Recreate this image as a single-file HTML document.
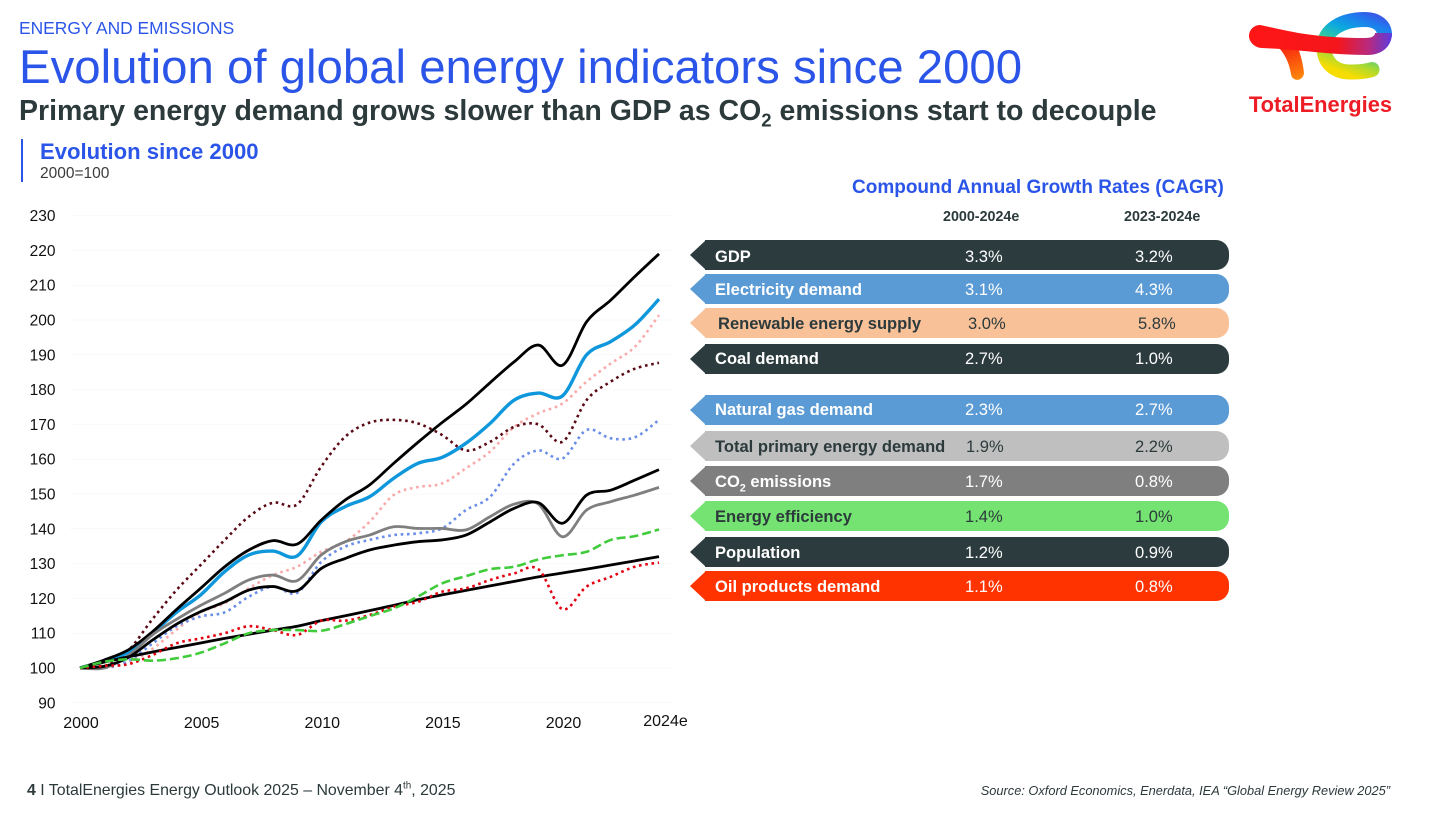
<!DOCTYPE html>
<html lang="en">
<head>
<meta charset="utf-8">
<title>Evolution of global energy indicators since 2000</title>
<style>
html,body{margin:0;padding:0;background:#fff}
body{width:1456px;height:816px;position:relative;overflow:hidden;font-family:"Liberation Sans",sans-serif}
.t{position:absolute;white-space:nowrap;line-height:1}
.bar{position:absolute;left:705px;width:524px;height:30px;border-radius:0 13px 13px 0;background:var(--c)}
.bar::before{content:"";position:absolute;left:-15px;top:0;width:0;height:0;border-style:solid;border-width:15px 16px 15px 0;border-color:transparent var(--c) transparent transparent}
.bar span{position:absolute;top:calc(50% + 1px);transform:translateY(-50%);white-space:nowrap;font-size:16.55px;color:var(--f)}
.bar .lab{left:10px;font-weight:bold}
.bar .v1{left:260px}
.bar .v2{left:430px}
sub{font-size:.65em;line-height:0}
sup{font-size:.62em;line-height:0}
</style>
</head>
<body>
<div class="t" style="left:19px;top:20px;font-size:17.4px;color:#2b55e8">ENERGY AND EMISSIONS</div>
<div class="t" style="left:19px;top:44px;font-size:47.36px;color:#2b55e8">Evolution of global energy indicators since 2000</div>
<div class="t" style="left:19px;top:97px;font-size:28.5px;font-weight:bold;color:#2c3a3c">Primary energy demand grows slower than GDP as CO<sub>2</sub> emissions start to decouple</div>
<div style="position:absolute;left:21px;top:139px;width:2px;height:43px;background:#2b55e8"></div>
<div class="t" style="left:40px;top:141px;font-size:22.1px;font-weight:bold;color:#2b55e8">Evolution since 2000</div>
<div class="t" style="left:40px;top:165.5px;font-size:15.5px;color:#3a3a3a">2000=100</div>

<svg id="chart" width="700" height="540" viewBox="0 0 700 540" style="position:absolute;left:0;top:200px"></svg>

<div class="t" style="left:852px;top:178px;font-size:19px;font-weight:bold;color:#2b55e8">Compound Annual Growth Rates (CAGR)</div>
<div class="t" style="left:943px;top:210px;font-size:14.3px;font-weight:bold;color:#2c3a3c">2000-2024e</div>
<div class="t" style="left:1124px;top:210px;font-size:14.3px;font-weight:bold;color:#2c3a3c">2023-2024e</div>

<div class="bar" style="top:239.5px;--c:#2c3b3e;--f:#fff"><span class="lab" style="top:calc(50% + 2px)">GDP</span><span class="v1" style="top:calc(50% + 2px)">3.3%</span><span class="v2" style="top:calc(50% + 2px)">3.2%</span></div>
<div class="bar" style="top:274px;--c:#5b9bd5;--f:#fff"><span class="lab">Electricity demand</span><span class="v1">3.1%</span><span class="v2">4.3%</span></div>
<div class="bar" style="top:308px;--c:#f8c198;--f:#2c3a3c"><span class="lab" style="left:13px">Renewable energy supply</span><span class="v1" style="left:263px">3.0%</span><span class="v2" style="left:433px">5.8%</span></div>
<div class="bar" style="top:344px;--c:#2c3b3e;--f:#fff"><span class="lab" style="top:50%">Coal demand</span><span class="v1" style="top:50%">2.7%</span><span class="v2" style="top:50%">1.0%</span></div>
<div class="bar" style="top:395px;--c:#5b9bd5;--f:#fff"><span class="lab" style="top:50%">Natural gas demand</span><span class="v1" style="top:50%">2.3%</span><span class="v2" style="top:50%">2.7%</span></div>
<div class="bar" style="top:431px;--c:#bfbfbf;--f:#2c3a3c"><span class="lab">Total primary energy demand</span><span class="v1" style="left:261px">1.9%</span><span class="v2">2.2%</span></div>
<div class="bar" style="top:466px;--c:#7f7f7f;--f:#fff"><span class="lab">CO<sub>2</sub> emissions</span><span class="v1">1.7%</span><span class="v2">0.8%</span></div>
<div class="bar" style="top:501px;--c:#74e371;--f:#2c3a3c"><span class="lab">Energy efficiency</span><span class="v1">1.4%</span><span class="v2">1.0%</span></div>
<div class="bar" style="top:537px;--c:#2c3b3e;--f:#fff"><span class="lab">Population</span><span class="v1">1.2%</span><span class="v2">0.9%</span></div>
<div class="bar" style="top:571px;--c:#ff3300;--f:#fff"><span class="lab">Oil products demand</span><span class="v1">1.1%</span><span class="v2">0.8%</span></div>

<svg width="160" height="120" viewBox="1240 0 160 120" style="position:absolute;left:1240px;top:0">
  <defs>
    <linearGradient id="ringGrad" gradientUnits="userSpaceOnUse" x1="1388" y1="12" x2="1362" y2="80">
      <stop offset="0" stop-color="#4a3fe0"/>
      <stop offset=".22" stop-color="#1f7bee"/>
      <stop offset=".42" stop-color="#0ca8e0"/>
      <stop offset=".6" stop-color="#2cc7a6"/>
      <stop offset=".8" stop-color="#a5d935"/>
      <stop offset="1" stop-color="#f6dc00"/>
    </linearGradient>
    <linearGradient id="barGrad" gradientUnits="userSpaceOnUse" x1="1250" y1="40" x2="1392" y2="40">
      <stop offset="0" stop-color="#ff1616"/>
      <stop offset=".62" stop-color="#f4161c"/>
      <stop offset=".84" stop-color="#b62a80"/>
      <stop offset="1" stop-color="#5a3be0"/>
    </linearGradient>
    <linearGradient id="stemGrad" gradientUnits="userSpaceOnUse" x1="1283" y1="45" x2="1298" y2="80">
      <stop offset="0" stop-color="#f7200f"/>
      <stop offset="1" stop-color="#ff8a0a"/>
    </linearGradient>
  </defs>
  <path d="M1384.5 35C1384.5 25 1376 19.5 1365 19.5C1342 19.5 1324 30 1324 47C1324 64 1336 72 1350 72C1358 72 1366 71.5 1372 69.5" fill="none" stroke="url(#ringGrad)" stroke-width="15" stroke-linecap="round"/>
  <path d="M1276 45C1284 52 1289 62 1291 74C1292 82 1303 82 1304 73C1303 64 1301 56 1298 48Z" fill="url(#stemGrad)"/>
  <path d="M1260 25C1285 30 1310 38 1365 38C1372 38 1375 36 1375 33L1392 33C1392 48 1380 55 1368 55C1330 55 1305 50 1262 48C1255 48 1249 42 1249 36C1249 30 1254 25 1260 25Z" fill="url(#barGrad)"/>
  <text x="1320.5" y="112" text-anchor="middle" font-family="Liberation Sans, sans-serif" font-weight="bold" font-size="21.9" fill="#ee1c25">TotalEnergies</text>
</svg>

<div class="t" style="left:27px;top:782.5px;font-size:15.9px;color:#2c3a3c"><b>4</b> I TotalEnergies Energy Outlook 2025 – November 4<sup>th</sup>, 2025</div>
<div class="t" style="right:66px;top:784.5px;font-size:12.8px;font-style:italic;color:#2c3a3c">Source: Oxford Economics, Enerdata, IEA “Global Energy Review 2025”</div>

<script>
const years = [2000,2001,2002,2003,2004,2005,2006,2007,2008,2009,2010,2011,2012,2013,2014,2015,2016,2017,2018,2019,2020,2021,2022,2023,2024];
const yTicks = [90,100,110,120,130,140,150,160,170,180,190,200,210,220,230];
const xTickYears = [2000,2005,2010,2015,2020,2024];
const xTickLabels = ["2000","2005","2010","2015","2020","2024e"];

const gdp = [100,102.3,105.2,110.4,116.8,122.9,129.1,133.9,136.6,135.6,142.5,148.3,152.6,158.8,164.8,170.5,175.8,182,188,192.8,187,199.5,205.7,212.5,219];
const electricity = [100,102,104.5,110,116,121,127.7,132.5,133.6,132.2,142,146.4,149.2,154.5,158.8,160.5,164.6,170.3,177,179,178.2,190,193.8,198.6,206];
const renewables = [100,100,101.5,105.5,111,116,118.6,122.9,126.7,129.1,133.4,136.3,142,149.7,152,153,157.4,162.2,169.3,173.2,176,182.3,187.5,192.3,201.4];
const coal = [100,100.5,105,114,122.4,129.6,136.8,143.5,147.5,147,157.9,166.5,170.5,171.3,170.3,167,162.5,165,169.3,170,165,177,182.3,186,187.7];
const naturalGas = [100,100,102,107,112,114.8,116,120.5,123.4,121.6,130.5,134.9,136.8,138.2,138.7,140.1,145.4,149.2,158.8,162.5,160.2,168.4,166,166.3,171.3];
const primaryEnergy = [100,100,103.5,109.5,114,118,121.5,125.3,126.7,125.1,132.5,136.3,138.2,140.6,140.1,140.1,139.7,143.5,147.1,147.1,137.7,145.4,147.8,149.7,151.9];
const co2 = [100,100.5,103,108,112.6,116.2,119,122.4,123.4,122.2,128.6,131.5,133.9,135.3,136.3,136.8,138.2,142,145.9,147.5,141.6,149.7,151.1,154,157];
const oil = [100,100.6,101.1,103.7,107.1,108.5,110,112,110.9,109.5,113.6,113.6,115.2,117.6,119,121.9,122.9,125.3,127.2,128.4,116.9,123.4,126.2,129.1,130.3];
const population = [100,101.7,103.2,104.6,105.9,107.2,108.5,109.7,110.9,112,113.6,115,116.5,118,119.6,121,122.3,123.6,124.9,126.2,127.3,128.4,129.6,130.8,132];
const efficiency = [100,101.8,102.5,102.1,102.8,104.4,107.1,110,110.9,110.9,110.7,112.6,114.9,117.1,120.5,124.3,126.4,128.4,129.1,131.2,132.4,133.4,136.8,137.9,139.8];

const seriesList = [
  { name: "renewable-energy-supply-line", values: renewables, color: "#f9a9a9", width: 2.6, dash: "2.6 3.7" },
  { name: "natural-gas-demand-line", values: naturalGas, color: "#6a8de8", width: 2.6, dash: "2.6 3.7" },
  { name: "coal-demand-line", values: coal, color: "#5a0a14", width: 2.6, dash: "2.6 3.7" },
  { name: "electricity-demand-line", values: electricity, color: "#0f97dc", width: 3.4, dash: "" },
  { name: "gdp-line", values: gdp, color: "#000000", width: 2.8, dash: "" },
  { name: "total-primary-energy-line", values: primaryEnergy, color: "#7f7f7f", width: 2.8, dash: "" },
  { name: "co2-emissions-line", values: co2, color: "#000000", width: 2.8, dash: "" },
  { name: "population-line", values: population, color: "#000000", width: 2.8, dash: "" },
  { name: "oil-products-demand-line", values: oil, color: "#e3000f", width: 2.6, dash: "2.6 3.7" },
  { name: "energy-efficiency-line", values: efficiency, color: "#3fcb3a", width: 2.6, dash: "9 4" }
];

const SVG_NS = "http://www.w3.org/2000/svg";
const chart = document.getElementById("chart");
const OFFSET_Y = 200;
function xScale(year) { return 80 + (year - 2000) * (659 - 80) / 24; }
function yScale(value) { return 668 - OFFSET_Y - (value - 100) * 3.48; }

function smoothPath(pts) {
  let d = "M" + pts[0][0].toFixed(2) + " " + pts[0][1].toFixed(2);
  for (let i = 0; i < pts.length - 1; i++) {
    const p0 = pts[Math.max(i - 1, 0)];
    const p1 = pts[i];
    const p2 = pts[i + 1];
    const p3 = pts[Math.min(i + 2, pts.length - 1)];
    const c1x = p1[0] + (p2[0] - p0[0]) / 6;
    const c1y = p1[1] + (p2[1] - p0[1]) / 6;
    const c2x = p2[0] - (p3[0] - p1[0]) / 6;
    const c2y = p2[1] - (p3[1] - p1[1]) / 6;
    d += "C" + c1x.toFixed(2) + " " + c1y.toFixed(2) + " " + c2x.toFixed(2) + " " + c2y.toFixed(2) + " " + p2[0].toFixed(2) + " " + p2[1].toFixed(2);
  }
  return d;
}

yTicks.forEach(function (tick) {
  const grid = document.createElementNS(SVG_NS, "line");
  
  
  grid.setAttribute("x1", 70);
  grid.setAttribute("x2", 672);
  grid.setAttribute("y1", yScale(tick));
  grid.setAttribute("y2", yScale(tick));
  grid.setAttribute("stroke", "#f9f9f9");
  grid.setAttribute("stroke-width", 1);
  chart.appendChild(grid);

  const label = document.createElementNS(SVG_NS, "text");
  
  
  label.setAttribute("x", 55.5);
  label.setAttribute("y", yScale(tick) + 5.5);
  label.setAttribute("text-anchor", "end");
  label.setAttribute("font-size", "15.5");
  label.setAttribute("fill", "#111");
  label.textContent = tick;
  chart.appendChild(label);
});

xTickYears.forEach(function (year, i) {
  const label = document.createElementNS(SVG_NS, "text");
  
  
  const isLast = i === xTickYears.length - 1;
  label.setAttribute("x", xScale(year) + (isLast ? 6.5 : 1));
  label.setAttribute("y", isLast ? 526 : 528);
  label.setAttribute("text-anchor", "middle");
  label.setAttribute("font-size", "16");
  label.setAttribute("fill", "#111");
  label.textContent = xTickLabels[i];
  chart.appendChild(label);
});

seriesList.forEach(function (s) {
  const pts = s.values.map(function (v, i) { return [xScale(years[i]), yScale(v)]; });
  const path = document.createElementNS(SVG_NS, "path");
  
  
  path.setAttribute("d", smoothPath(pts));
  path.setAttribute("fill", "none");
  path.setAttribute("stroke", s.color);
  path.setAttribute("stroke-width", s.width);
  path.setAttribute("stroke-linejoin", "round");
  if (s.dash) {
    path.setAttribute("stroke-dasharray", s.dash);
  }
  chart.appendChild(path);
});
</script>
</body>
</html>
